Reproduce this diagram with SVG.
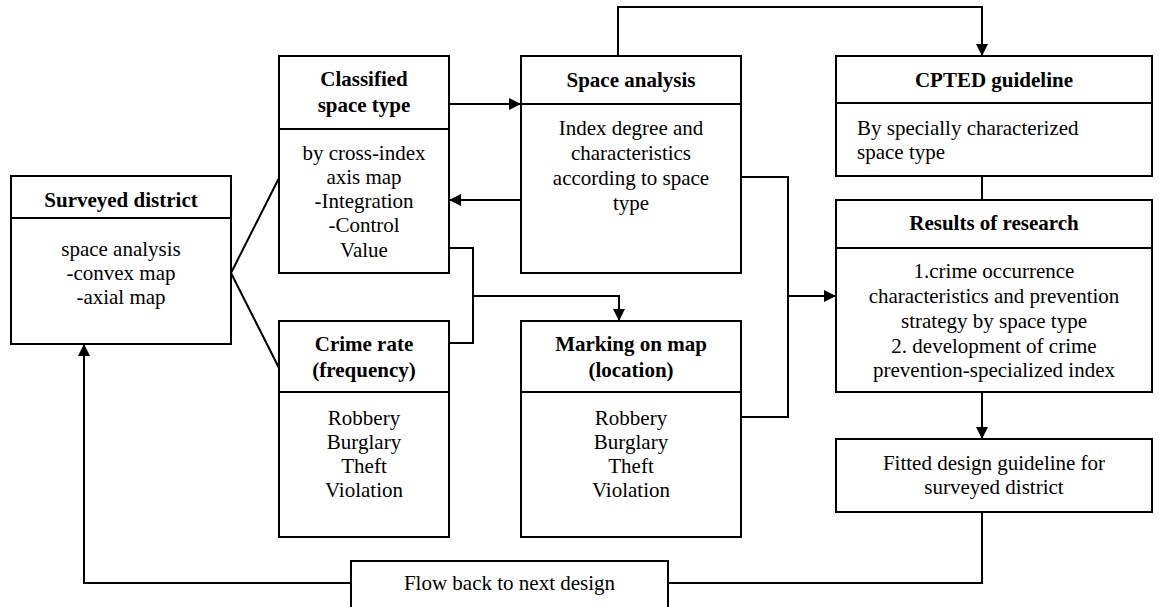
<svg xmlns="http://www.w3.org/2000/svg" width="1159" height="607" viewBox="0 0 1159 607">
<defs>
<style>
.box{fill:#fff;stroke:#000;stroke-width:2}
.div{stroke:#000;stroke-width:2}
.t{font-family:"Liberation Serif","Times New Roman",serif;font-size:21px;fill:#000;text-anchor:middle}
.b{font-weight:bold}
.l{text-anchor:start}
.c{fill:none;stroke:#000;stroke-width:2}
</style>
<marker id="arr" viewBox="0 0 12 12" refX="12" refY="6" markerWidth="12" markerHeight="12" markerUnits="userSpaceOnUse" orient="auto">
<path d="M0,0 L12,6 L0,12 z" fill="#000"/>
</marker>
</defs>
<rect width="1159" height="607" fill="#fff"/>
<g id="connectors">
<path class="c" d="M231,273 L279,178"/>
<path class="c" d="M231,273 L279,368"/>
<path class="c" d="M449,104 H521" marker-end="url(#arr)"/>
<path class="c" d="M521,200 H449" marker-end="url(#arr)"/>
<path class="c" d="M449,248 H473 V343 H449"/>
<path class="c" d="M473,296 H619 V321" marker-end="url(#arr)"/>
<path class="c" d="M618,56 V7 H982 V56" marker-end="url(#arr)"/>
<path class="c" d="M741,177 H788 V417 H741"/>
<path class="c" d="M788,296 H836" marker-end="url(#arr)"/>
<path class="c" d="M982,176 V200"/>
<path class="c" d="M982,392 V439" marker-end="url(#arr)"/>
<path class="c" d="M982,512 V583 H668"/>
<path class="c" d="M351,583 H84 V344" marker-end="url(#arr)"/>
</g>
<g id="surveyed">
<rect class="box" x="11" y="176" width="220" height="168"/>
<line class="div" x1="11" y1="218" x2="231" y2="218"/>
<text class="t b" x="121" y="207">Surveyed district</text>
<text class="t" x="121" y="256">space analysis</text>
<text class="t" x="121" y="280">-convex map</text>
<text class="t" x="121" y="304">-axial map</text>
</g>
<g id="classified">
<rect class="box" x="279" y="56" width="170" height="217"/>
<line class="div" x1="279" y1="129" x2="449" y2="129"/>
<text class="t b" x="364" y="86">Classified</text>
<text class="t b" x="364" y="112">space type</text>
<text class="t" x="364" y="160">by cross-index</text>
<text class="t" x="364" y="184">axis map</text>
<text class="t" x="364" y="208">-Integration</text>
<text class="t" x="364" y="232">-Control</text>
<text class="t" x="364" y="257">Value</text>
</g>
<g id="crime">
<rect class="box" x="279" y="321" width="170" height="216"/>
<line class="div" x1="279" y1="392" x2="449" y2="392"/>
<text class="t b" x="364" y="351">Crime rate</text>
<text class="t b" x="364" y="377">(frequency)</text>
<text class="t" x="364" y="425">Robbery</text>
<text class="t" x="364" y="449">Burglary</text>
<text class="t" x="364" y="473">Theft</text>
<text class="t" x="364" y="497">Violation</text>
</g>
<g id="space">
<rect class="box" x="521" y="56" width="220" height="217"/>
<line class="div" x1="521" y1="104" x2="741" y2="104"/>
<text class="t b" x="631" y="87">Space analysis</text>
<text class="t" x="631" y="135">Index degree and</text>
<text class="t" x="631" y="160">characteristics</text>
<text class="t" x="631" y="185">according to space</text>
<text class="t" x="631" y="210">type</text>
</g>
<g id="marking">
<rect class="box" x="521" y="321" width="220" height="216"/>
<line class="div" x1="521" y1="392" x2="741" y2="392"/>
<text class="t b" x="631" y="351">Marking on map</text>
<text class="t b" x="631" y="377">(location)</text>
<text class="t" x="631" y="425">Robbery</text>
<text class="t" x="631" y="449">Burglary</text>
<text class="t" x="631" y="473">Theft</text>
<text class="t" x="631" y="497">Violation</text>
</g>
<g id="cpted">
<rect class="box" x="836" y="56" width="316" height="120"/>
<line class="div" x1="836" y1="103" x2="1152" y2="103"/>
<text class="t b" x="994" y="87">CPTED guideline</text>
<text class="t l" x="857" y="135">By specially characterized</text>
<text class="t l" x="857" y="159">space type</text>
</g>
<g id="results">
<rect class="box" x="836" y="200" width="316" height="192"/>
<line class="div" x1="836" y1="248" x2="1152" y2="248"/>
<text class="t b" x="994" y="230">Results of research</text>
<text class="t" x="994" y="278">1.crime occurrence</text>
<text class="t" x="994" y="303">characteristics and prevention</text>
<text class="t" x="994" y="328">strategy by space type</text>
<text class="t" x="994" y="353">2. development of crime</text>
<text class="t" x="994" y="377">prevention-specialized index</text>
</g>
<g id="fitted">
<rect class="box" x="836" y="439" width="316" height="73"/>
<text class="t" x="994" y="470">Fitted design guideline for</text>
<text class="t" x="994" y="494">surveyed district</text>
</g>
<g id="flowback">
<rect class="box" x="351" y="561" width="317" height="60"/>
<text class="t" x="509.5" y="590">Flow back to next design</text>
</g>
</svg>
